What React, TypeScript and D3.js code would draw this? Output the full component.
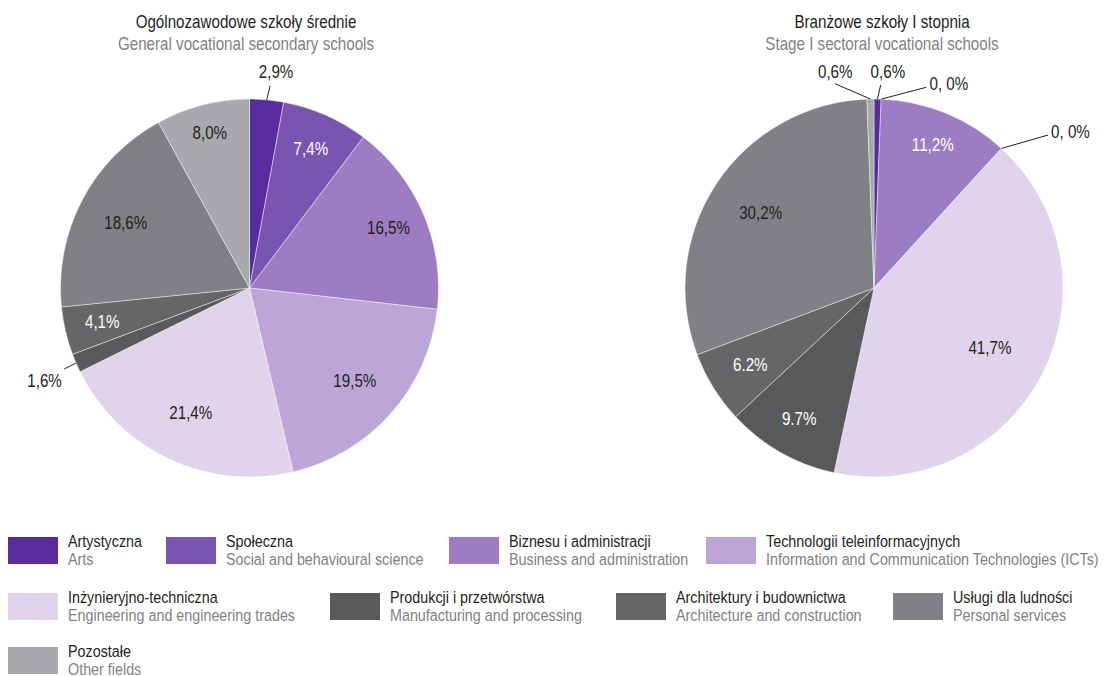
import React from 'react';
import * as d3 from 'd3';

// ---------- data ----------
const categoriesPl = [
  'Artystyczna',
  'Społeczna',
  'Biznesu i administracji',
  'Technologii teleinformacyjnych',
  'Inżynieryjno-techniczna',
  'Produkcji i przetwórstwa',
  'Architektury i budownictwa',
  'Usługi dla ludności',
  'Pozostałe',
];
const categoriesEn = [
  'Arts',
  'Social and behavioural science',
  'Business and administration',
  'Information and Communication Technologies (ICTs)',
  'Engineering and engineering trades',
  'Manufacturing and processing',
  'Architecture and construction',
  'Personal services',
  'Other fields',
];
const generalValues = [2.9, 7.4, 16.5, 19.5, 21.4, 1.6, 4.1, 18.6, 8.0];
const generalLabels = ['2,9%', '7,4%', '16,5%', '19,5%', '21,4%', '1,6%', '4,1%', '18,6%', '8,0%'];
const sectoralValues = [0.6, 0, 11.2, 0, 41.7, 9.7, 6.2, 30.2, 0.6];
const sectoralLabels = ['0,6%', '0, 0%', '11,2%', '0, 0%', '41,7%', '9.7%', '6.2%', '30,2%', '0,6%'];

const pieTitlesPl = ['Ogólnozawodowe szkoły średnie', 'Branżowe szkoły I stopnia'];
const pieTitlesEn = ['General vocational secondary schools', 'Stage I sectoral vocational schools'];

// ---------- styles / layout ----------
const COLORS = ['#582c9d', '#7a54b1', '#9d7cc3', '#bea5d7', '#e0d3ec', '#58595b', '#666668', '#808184', '#a7a9ac'];
const FONT = "'Liberation Sans', Arial, sans-serif";
const SX = 0.843; // horizontal condensing to mimic a condensed face
const DARK = '#231f20';
const GREY = '#808285';

type Callout = { dA: number; line: number; tdA?: number; text?: number; anchor: 'middle' | 'start' };
type PieLayout = {
  cx: number; cy: number; r: number; titleX: number;
  inside: Record<number, number>;
  outside: Record<number, Callout>;
  white: number[];
};

const LAYOUTS: PieLayout[] = [
  {
    cx: 249.5, cy: 288, r: 189, titleX: 246,
    inside: { 1: 0.806, 2: 0.8, 3: 0.745, 4: 0.73, 6: 0.8, 7: 0.74, 8: 0.845 },
    outside: {
      0: { dA: 0.6, line: 1.075, tdA: 1.8, text: 1.15, anchor: 'middle' },
      5: { dA: -0.2, line: 1.07, tdA: -0.9, text: 1.19, anchor: 'middle' },
    },
    white: [1, 6],
  },
  {
    cx: 874, cy: 288, r: 189, titleX: 882,
    inside: { 2: 0.82, 4: 0.69, 5: 0.8, 6: 0.77, 7: 0.72 },
    outside: {
      0: { dA: 0.8, line: 1.075, tdA: 2.6, text: 1.145, anchor: 'middle' },
      1: { dA: 12.5, line: 1.098, anchor: 'start' },
      3: { dA: 6.3, line: 1.226, anchor: 'start' },
      8: { dA: -9.7, line: 1.1, tdA: -9.1, text: 1.16, anchor: 'middle' },
    },
    white: [2, 5, 6],
  },
];

const LEGEND_ROWS = [
  { top: 537, items: [0, 1, 2, 3], xs: [8, 166, 449, 706] },
  { top: 593, items: [4, 5, 6, 7], xs: [8, 330, 616, 893] },
  { top: 647, items: [8], xs: [8] },
];

const rad = (deg: number) => (deg * Math.PI) / 180;
const polar = (cx: number, cy: number, r: number, a: number): [number, number] => [
  cx + r * Math.sin(a),
  cy - r * Math.cos(a),
];

function T({ x, y, size, fill, anchor = 'start', central = false, children }: {
  x: number; y: number; size: number; fill: string; anchor?: 'start' | 'middle' | 'end'; central?: boolean; children: React.ReactNode;
}) {
  return (
    <text
      transform={`translate(${x},${y}) scale(${SX},1)`}
      x={0}
      y={0}
      textAnchor={anchor}
      dominantBaseline={central ? 'central' : undefined}
      fontSize={size}
      fill={fill}
    >
      {children}
    </text>
  );
}

function Pie({ values, labels, layout, idx }: { values: number[]; labels: string[]; layout: PieLayout; idx: number }) {
  const pie = d3.pie<number>().sort(null).value((d) => d);
  const arcs = pie(values);
  const arc = d3.arc<d3.PieArcDatum<number>>().innerRadius(0).outerRadius(layout.r);
  const { cx, cy, r } = layout;
  return (
    <g>
      <T x={layout.titleX} y={28} anchor="middle" size={18} fill={DARK}>{pieTitlesPl[idx]}</T>
      <T x={layout.titleX} y={50} anchor="middle" size={18} fill={GREY}>{pieTitlesEn[idx]}</T>
      <g transform={`translate(${cx},${cy})`}>
        {arcs.map((a, i) =>
          a.value > 0 ? (
            <path key={i} d={arc(a) || ''} fill={COLORS[i]} stroke="#ffffff" strokeOpacity={0.55} strokeWidth={0.8} />
          ) : null
        )}
      </g>
      {arcs.map((a, i) => {
        const k = layout.inside[i];
        if (k !== undefined) {
          const lab = d3.arc<d3.PieArcDatum<number>>().innerRadius(k * r).outerRadius(k * r);
          const [x, y] = lab.centroid(a);
          return (
            <T key={'l' + i} x={cx + x} y={cy + y} anchor="middle" central size={18}
              fill={layout.white.includes(i) ? '#ffffff' : DARK}>{labels[i]}</T>
          );
        }
        const c = layout.outside[i];
        if (!c) return null;
        const mid = (a.startAngle + a.endAngle) / 2;
        const [x0, y0] = polar(cx, cy, r, mid);
        const [x1, y1] = polar(cx, cy, r * c.line, mid + rad(c.dA));
        let tx: number, ty: number;
        if (c.anchor === 'start') {
          tx = x1 + 3; ty = y1 - 3;
        } else {
          [tx, ty] = polar(cx, cy, r * (c.text || 1.15), mid + rad(c.tdA || 0));
        }
        return (
          <g key={'c' + i}>
            <line x1={x0} y1={y0} x2={x1} y2={y1} stroke={DARK} strokeWidth={1} />
            <T x={tx} y={ty} anchor={c.anchor} central size={18} fill={DARK}>{labels[i]}</T>
          </g>
        );
      })}
    </g>
  );
}

export default function App() {
  return (
    <svg width={1107} height={676} style={{ position: 'absolute', left: 0, top: 0, background: '#fff' }} fontFamily={FONT}>
      <rect width={1107} height={676} fill="#ffffff" />
      <Pie values={generalValues} labels={generalLabels} layout={LAYOUTS[0]} idx={0} />
      <Pie values={sectoralValues} labels={sectoralLabels} layout={LAYOUTS[1]} idx={1} />
      {LEGEND_ROWS.map((row, ri) =>
        row.items.map((ci, j) => (
          <g key={ri + '-' + j} transform={`translate(${row.xs[j]},${row.top})`}>
            <rect x={0} y={0} width={50} height={27} fill={COLORS[ci]} />
            <T x={60} y={10} size={17} fill={DARK}>{categoriesPl[ci]}</T>
            <T x={60} y={28} size={17} fill={GREY}>{categoriesEn[ci]}</T>
          </g>
        ))
      )}
    </svg>
  );
}
